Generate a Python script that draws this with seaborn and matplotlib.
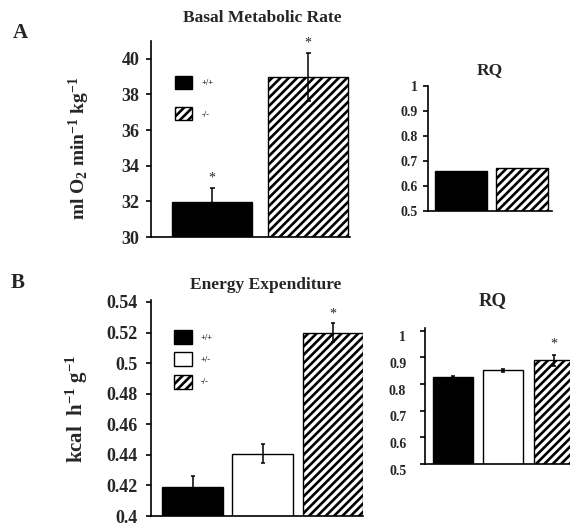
import numpy as np
import pandas as pd
import matplotlib
matplotlib.use("Agg")
import matplotlib.pyplot as plt
import matplotlib.transforms as mtransforms
import seaborn as sns
from matplotlib.patches import Patch

# ---------------- data ----------------
genotypes_a = ["+/+", "-/-"]
bmr_values = [31.95, 39.0]
bmr_errors = [0.8, 1.35]
bmr_stars = [True, True]
rq_a_values = [0.66, 0.672]
rq_a_errors = [0.0, 0.0]
rq_a_stars = [False, False]

genotypes_b = ["+/+", "+/-", "-/-"]
ee_values = [0.419, 0.4408, 0.520]
ee_errors = [0.007, 0.006, 0.006]
ee_stars = [False, False, True]
rq_b_values = [0.826, 0.852, 0.889]
rq_b_errors = [0.004, 0.006, 0.02]
rq_b_stars = [False, False, True]

bmr_ticks = [30, 32, 34, 36, 38, 40]
ee_ticks = [0.4, 0.42, 0.44, 0.46, 0.48, 0.5, 0.52, 0.54]
rq_ticks = [0.5, 0.6, 0.7, 0.8, 0.9, 1.0]

styles = {"+/+": ("black", ""), "+/-": ("white", ""), "-/-": ("white", "////")}

sns.set_style("white")
plt.rcParams["font.family"] = ["Liberation Serif", "DejaVu Serif"]
plt.rcParams["font.weight"] = "bold"
plt.rcParams["mathtext.fontset"] = "custom"
plt.rcParams["mathtext.rm"] = "Liberation Serif"
plt.rcParams["mathtext.bf"] = "Liberation Serif:bold"
plt.rcParams["mathtext.default"] = "bf"
plt.rcParams["hatch.linewidth"] = 1.9
plt.rcParams["hatch.color"] = "black"

W, H = 570, 525
fig = plt.figure(figsize=(W / 100, H / 100), dpi=100)


def box(x0, x1, ytop, ybot):
    return [x0 / W, 1 - ybot / H, (x1 - x0) / W, (ybot - ytop) / H]


def draw(ax, cats, vals, errs, stars, width, xlim, ylim, ticks, ticksize,
         tickpad, capsize, star_off, label_dy=0):
    df = pd.DataFrame({"g": cats, "v": vals})
    sns.barplot(data=df, x="g", y="v", hue="g", order=cats, hue_order=cats,
                palette=[styles[c][0] for c in cats], width=width,
                errorbar=None, legend=False, ax=ax, saturation=1)
    for patch, c in zip(ax.patches, cats):
        fc, hatch = styles[c]
        patch.set_facecolor(fc)
        patch.set_edgecolor("black")
        patch.set_linewidth(1.0)
        patch.set_hatch(hatch)
    pos = np.arange(len(cats))
    e = np.array(errs)
    if e.max() > 0:
        ax.errorbar(pos, vals, yerr=e, fmt="none", ecolor="black",
                    elinewidth=1.1, capsize=capsize, capthick=1.1, zorder=5)
    for i, (v, er, s) in enumerate(zip(vals, errs, stars)):
        if s:
            ax.annotate("*", xy=(i, v + er), xytext=(0, star_off),
                        textcoords="offset points", ha="center", va="center",
                        fontsize=10, fontweight="normal")
    ax.set_xlim(*xlim)
    ax.set_ylim(*ylim)
    ax.set_yticks(ticks)
    ax.set_yticklabels([f"{t:g}" for t in ticks], fontsize=ticksize,
                       fontweight="bold")
    ax.set_xticks([])
    ax.set_xlabel("")
    ax.set_ylabel("")
    for sp in ["top", "right"]:
        ax.spines[sp].set_visible(False)
    for sp in ["left", "bottom"]:
        ax.spines[sp].set_color("black")
        ax.spines[sp].set_linewidth(1.2)
    ax.tick_params(axis="y", direction="out", length=3.5, width=1.2,
                   color="black", pad=tickpad, left=True)
    if label_dy:
        off = mtransforms.ScaledTranslation(0, -label_dy / 72,
                                            fig.dpi_scale_trans)
        for lbl in ax.get_yticklabels():
            lbl.set_transform(lbl.get_transform() + off)


# ---- Panel A: Basal Metabolic Rate ----
axA = fig.add_axes(box(151, 350, 41, 237))
draw(axA, genotypes_a, bmr_values, bmr_errors, bmr_stars, 0.833,
     (-0.635, 1.4375), (30, 41), bmr_ticks, 13, 5, 1.8, 7)
axA.set_title("Basal Metabolic Rate", fontsize=12.5, fontweight="bold",
              x=0.56, y=1.117, va="center", pad=0)
axA.set_ylabel("ml O$_{2}$ min$^{-1}$ kg$^{-1}$",
               fontsize=14, fontweight="bold", va="center")
axA.yaxis.set_label_coords(-0.36, 0.45)
axA.legend(handles=[Patch(facecolor=styles[c][0], edgecolor="black",
                          hatch=styles[c][1], label=c) for c in genotypes_a],
           loc="upper left", bbox_to_anchor=(0.12, 0.82), frameon=False,
           fontsize=6, handlelength=2.0, handleheight=2.0, labelspacing=2.2,
           handletextpad=1.2, borderpad=0, borderaxespad=0)

# ---- Panel A: RQ ----
axA2 = fig.add_axes(box(428, 552, 86, 211))
draw(axA2, genotypes_a, rq_a_values, rq_a_errors, rq_a_stars, 0.846,
     (-0.537, 1.48), (0.5, 1.0), rq_ticks, 10, 4, 1.5, 7)
axA2.set_title("RQ", fontsize=12.5, fontweight="bold", y=1.128, va="center",
               pad=0)

# ---- Panel B: Energy Expenditure ----
axB = fig.add_axes(box(151, 363, 300, 516))
draw(axB, genotypes_b, ee_values, ee_errors, ee_stars, 0.868,
     (-0.591, 2.427), (0.4, 0.5413), ee_ticks, 13, 6, 1.5, 7)
axB.set_title("Energy Expenditure", fontsize=12.5, fontweight="bold",
              x=0.54, y=1.069, va="center", pad=0)
axB.set_ylabel("kcal  h$^{-1}$ g$^{-1}$",
               fontsize=15, fontweight="bold", va="center")
axB.yaxis.set_label_coords(-0.35, 0.495)
axB.legend(handles=[Patch(facecolor=styles[c][0], edgecolor="black",
                          hatch=styles[c][1], label=c) for c in genotypes_b],
           loc="upper left", bbox_to_anchor=(0.108, 0.861), frameon=False,
           fontsize=6, handlelength=2.2, handleheight=2.2, labelspacing=1.0,
           handletextpad=1.0, borderpad=0, borderaxespad=0)

# ---- Panel B: RQ ----
axB2 = fig.add_axes(box(425, 579, 328, 464))
draw(axB2, genotypes_b, rq_b_values, rq_b_errors, rq_b_stars, 0.79,
     (-0.554, 2.5), (0.5, 1.01), rq_ticks, 10, 10, 1.3, 8, label_dy=4)
axB2.set_title("RQ", fontsize=13.5, fontweight="bold", x=0.44, y=1.2,
               va="center", pad=0)

fig.text(20 / W, 1 - 33 / H, "A", fontsize=15, fontweight="bold",
         ha="center", va="center")
fig.text(18 / W, 1 - 283 / H, "B", fontsize=15, fontweight="bold",
         ha="center", va="center")

fig.savefig("out.png", dpi=100)
